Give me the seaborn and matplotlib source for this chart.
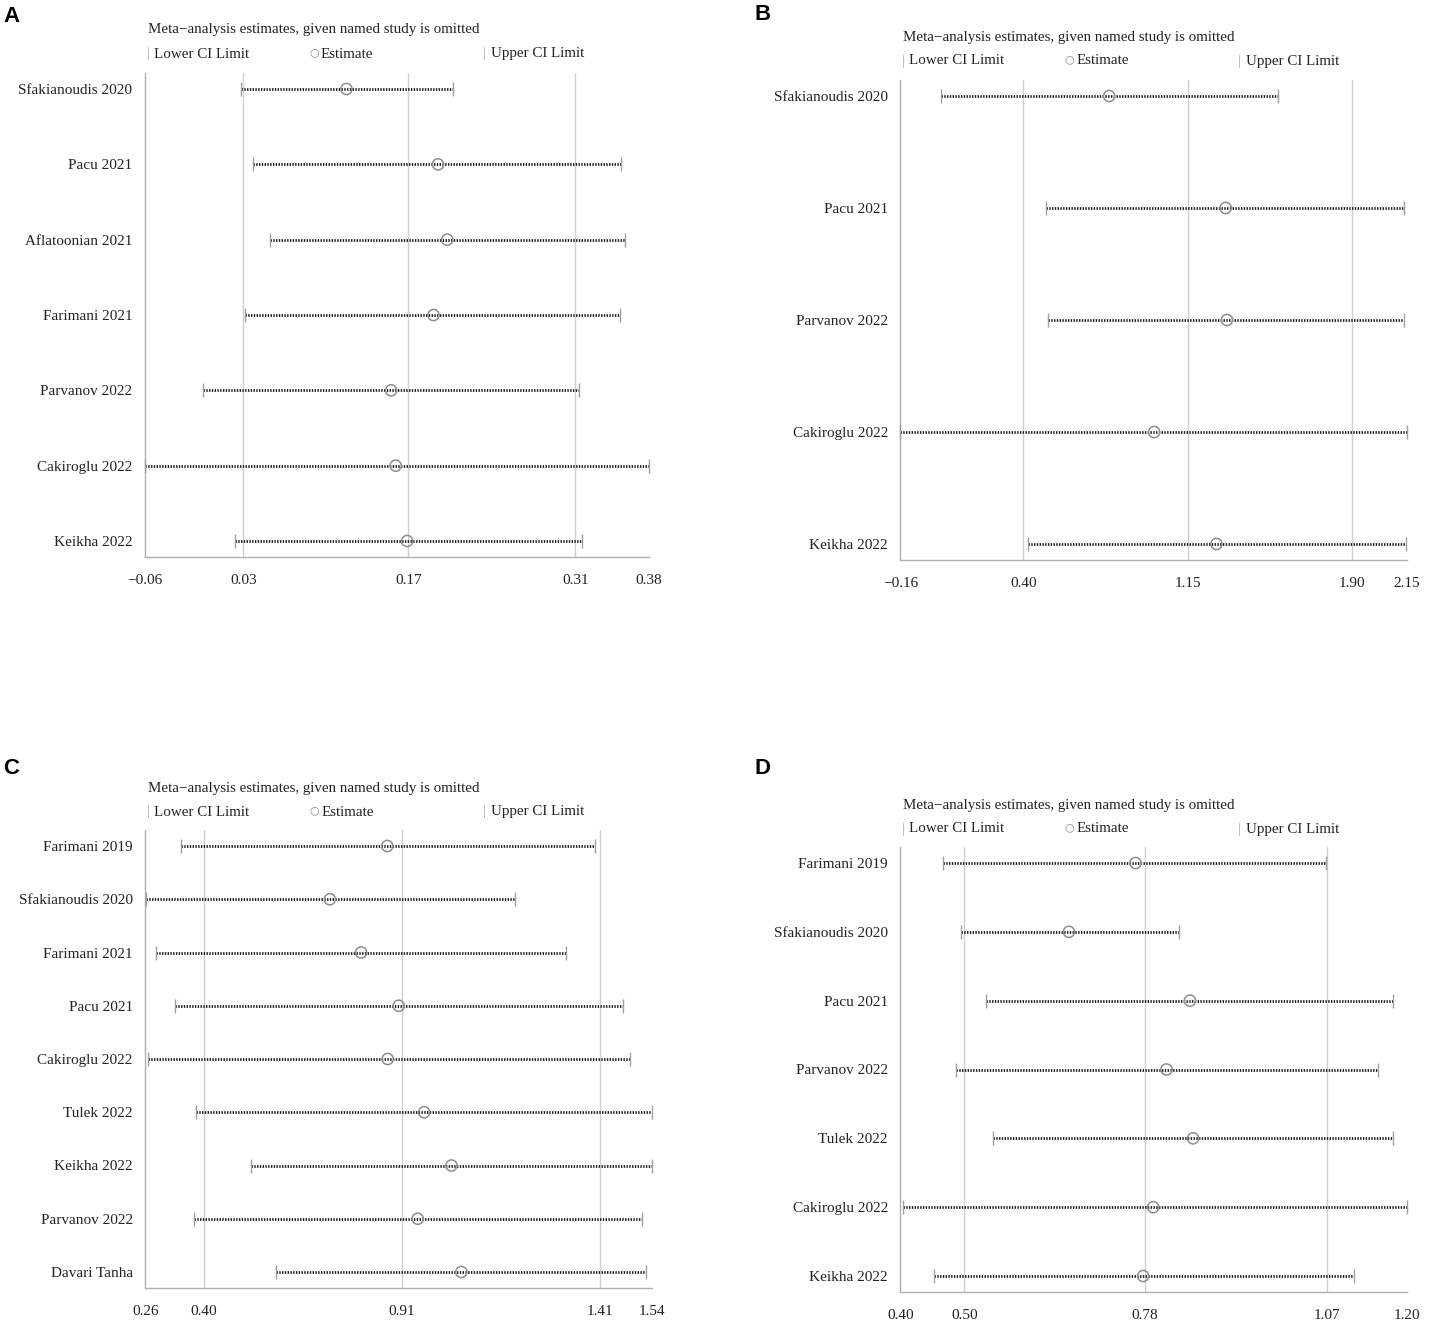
import numpy as np
import pandas as pd
import seaborn as sns
import matplotlib.pyplot as plt

W, H = 1431, 1331

# A
studies_a = ["Sfakianoudis 2020", "Pacu 2021", "Aflatoonian 2021", "Farimani 2021",
             "Parvanov 2022", "Cakiroglu 2022", "Keikha 2022"]
lower_a = [0.024, 0.034, 0.049, 0.027, -0.009, -0.060, 0.019]
est_a = [0.116, 0.196, 0.204, 0.192, 0.155, 0.159, 0.169]
upper_a = [0.209, 0.356, 0.359, 0.355, 0.319, 0.380, 0.322]
ticks_a = [-0.060, 0.026, 0.170, 0.316, 0.380]
tick_labels_a = ["\u22120.06", "0.03", "0.17", "0.31", "0.38"]

# B
studies_b = ["Sfakianoudis 2020", "Pacu 2021", "Parvanov 2022", "Cakiroglu 2022", "Keikha 2022"]
lower_b = [0.023, 0.505, 0.515, -0.160, 0.424]
est_b = [0.792, 1.323, 1.329, 0.997, 1.281]
upper_b = [1.561, 2.138, 2.138, 2.150, 2.146]
ticks_b = [-0.16, 0.40, 1.15, 1.90, 2.15]
tick_labels_b = ["\u22120.16", "0.40", "1.15", "1.90", "2.15"]

# C
studies_c = ["Farimani 2019", "Sfakianoudis 2020", "Farimani 2021", "Pacu 2021", "Cakiroglu 2022",
             "Tulek 2022", "Keikha 2022", "Parvanov 2022", "Davari Tanha"]
lower_c = [0.350, 0.262, 0.287, 0.336, 0.266, 0.389, 0.526, 0.383, 0.590]
est_c = [0.871, 0.726, 0.805, 0.900, 0.872, 0.964, 1.033, 0.948, 1.058]
upper_c = [1.396, 1.193, 1.322, 1.467, 1.484, 1.539, 1.540, 1.513, 1.525]
ticks_c = [0.26, 0.408, 0.908, 1.409, 1.54]
tick_labels_c = ["0.26", "0.40", "0.91", "1.41", "1.54"]

# D
studies_d = ["Farimani 2019", "Sfakianoudis 2020", "Pacu 2021", "Parvanov 2022",
             "Tulek 2022", "Cakiroglu 2022", "Keikha 2022"]
lower_d = [0.468, 0.495, 0.535, 0.488, 0.546, 0.404, 0.453]
est_d = [0.771, 0.666, 0.857, 0.820, 0.862, 0.799, 0.783]
upper_d = [1.072, 0.840, 1.177, 1.154, 1.177, 1.200, 1.116]
ticks_d = [0.40, 0.501, 0.786, 1.073, 1.20]
tick_labels_d = ["0.40", "0.50", "0.78", "1.07", "1.20"]

GRID = "#d0d0d0"
AXIS = "#b0b0b0"
TEXT = "#222222"

sns.set_theme(style="white")
plt.rcParams["font.family"] = ["Liberation Serif", "DejaVu Serif"]


def px_text(fig, x, y, s, **kw):
    fig.text(x / W, 1 - y / H, s, **kw)


def draw_panel(fig, box, letter, letter_xy, head_y, studies, lower, est, upper, ticks, tick_labels):
    left, top, right, bottom = box
    ax = fig.add_axes([left / W, 1 - bottom / H, (right - left) / W, (bottom - top) / H])

    df = pd.DataFrame({"study": studies, "lower": lower, "est": est, "upper": upper})
    df["row"] = np.arange(len(df))
    n = len(df)

    for t in ticks[1:-1]:
        ax.axvline(t, color=GRID, lw=1.0, zorder=0)

    ax.hlines(df["row"], df["lower"], df["upper"], color="#1e1e1e", lw=2.0,
              linestyles=(0, (0.5, 0.5)), zorder=2)

    caps = pd.concat([
        df[["row", "lower"]].rename(columns={"lower": "x"}),
        df[["row", "upper"]].rename(columns={"upper": "x"}),
    ])
    sns.scatterplot(data=caps, x="x", y="row", marker="|", s=110, color="#a0a0a0",
                    linewidth=1.0, ax=ax, zorder=3)
    ax.collections[-1].set_clip_on(False)
    sns.scatterplot(data=df, x="est", y="row", marker="o", s=65, facecolors="none",
                    edgecolors="#8e8e8e", linewidth=1.1, ax=ax, zorder=4)
    ax.collections[-1].set_clip_on(False)

    margin = 16
    p = margin * (n - 1) / ((bottom - top) - 2 * margin)
    ax.set_ylim(n - 1 + p, -p)
    ax.set_xlim(ticks[0], ticks[-1])

    ax.set_yticks(df["row"])
    ax.set_yticklabels(studies, fontsize=11, color=TEXT)
    ax.set_xticks(ticks)
    ax.set_xticklabels(tick_labels, fontsize=11, color=TEXT)
    ax.tick_params(axis="y", length=0, pad=9)
    ax.tick_params(axis="x", length=6, width=1, color=AXIS, pad=6, direction="out")
    ax.set(xlabel="", ylabel="")

    for side in ["top", "right"]:
        ax.spines[side].set_visible(False)
    for side in ["left", "bottom"]:
        ax.spines[side].set_color(AXIS)
        ax.spines[side].set_linewidth(1.0)

    # header text above the plot
    title_y, legend_y = head_y
    px_text(fig, left + 3, title_y, "Meta\u2212analysis estimates, given named study is omitted",
            fontsize=10.8, color=TEXT, va="center")
    px_text(fig, left + 2, legend_y, "|", fontsize=10, color="#aaaaaa", va="center")
    px_text(fig, left + 9, legend_y, "Lower CI Limit", fontsize=10.8, color=TEXT, va="center")
    px_text(fig, left + 164, legend_y - 1.5, "\u25cb", fontsize=8, color="#8a8a8a", va="center",
            family=["DejaVu Sans"])
    px_text(fig, left + 176, legend_y, "Estimate", fontsize=10.8, color=TEXT, va="center")
    px_text(fig, left + 338, legend_y, "|", fontsize=10, color="#aaaaaa", va="center")
    px_text(fig, left + 346, legend_y, "Upper CI Limit", fontsize=10.8, color=TEXT, va="center")

    px_text(fig, letter_xy[0], letter_xy[1], letter, fontsize=16, fontweight="bold",
            color="black", va="center", family=["Liberation Sans", "DejaVu Sans"])
    return ax


fig = plt.figure(figsize=(W / 100, H / 100), dpi=100)

draw_panel(fig, (145, 73, 648.7, 557), "A", (3, 17), (30, 54),
           studies_a, lower_a, est_a, upper_a, ticks_a, tick_labels_a)
draw_panel(fig, (900.4, 80, 1407, 560), "B", (754, 15), (37, 61),
           studies_b, lower_b, est_b, upper_b, ticks_b, tick_labels_b)
draw_panel(fig, (145.3, 830, 652.2, 1288), "C", (3, 768), (788, 812),
           studies_c, lower_c, est_c, upper_c, ticks_c, tick_labels_c)
draw_panel(fig, (900.4, 847, 1407.3, 1292), "D", (754, 768), (806, 829),
           studies_d, lower_d, est_d, upper_d, ticks_d, tick_labels_d)

fig.savefig("out.png", dpi=100, facecolor="white")
